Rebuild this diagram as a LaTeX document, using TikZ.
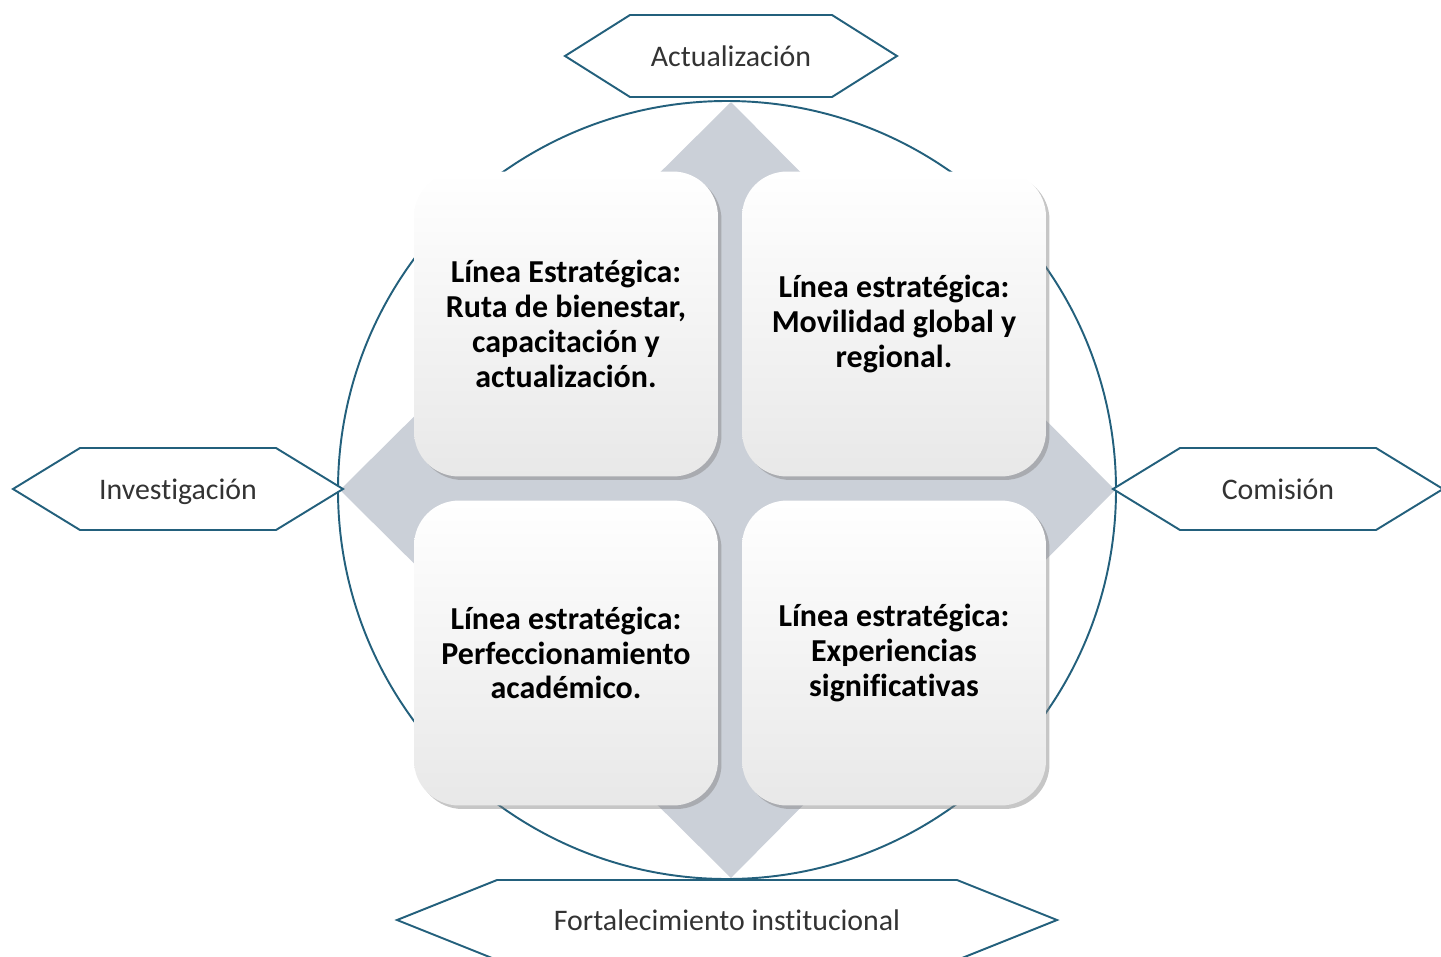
\documentclass[tikz,border=0pt]{standalone}
\usepackage{fontspec}
\setmainfont{Carlito}[Ligatures=NoCommon]
\usepackage{tikz}
\usetikzlibrary{shadows}
\definecolor{lineblue}{HTML}{23607C}
\definecolor{diamondgray}{HTML}{CBD0D8}
\definecolor{hextext}{HTML}{333333}

\begin{document}
\begin{tikzpicture}[x=0.02cm, y=-0.02cm,
HexLine/.style={draw=lineblue, line width=1.1pt, fill=white},
HexText/.style={text=hextext, font=\fontsize{17}{19}\selectfont},
LineBox/.style={rounded corners=0.9cm, minimum width=6.08cm, minimum height=6.1cm,
  top color=white, bottom color=black!9, align=center,
  font=\bfseries\fontsize{18.2}{19.8}\selectfont,
  drop shadow={shadow xshift=2pt, shadow yshift=-2pt, opacity=0.45}}]
\useasboundingbox (0,0) rectangle (1441,957);
\def\midX{727}
\def\midY{490}
\draw [lineblue, line width=1.1pt] (\midX, \midY) circle [radius=389*0.02cm];
\fill [diamondgray] (731, 102) -- (1115, \midY) -- (731, 878) -- (340, \midY) -- cycle;
\foreach \name/\cx/\cy/\txt in {
  ruta/566/324/{Línea Estratégica:\\Ruta de bienestar,\\capacitación y\\actualización.},
  movilidad/894/324/{Línea estratégica:\\Movilidad global y\\regional.},
  perfeccionamiento/566/653/{Línea estratégica:\\Perfeccionamiento\\académico.},
  experiencias/894/653/{Línea estratégica:\\Experiencias\\significativas}%
} {
  \node [LineBox] (\name) at (\cx, \cy) {\txt};
}
\foreach \name/\cx/\cy/\hw/\dp/\hh/\txt in {
  actualizacion/731/56/166/65/41/Actualización,
  investigacion/178/489/165/67/41/Investigación,
  comision/1278/489/165/67/41/Comisión,
  fortalecimiento/727/920/330/100/40/Fortalecimiento institucional%
} {
  \path [HexLine] (\cx-\hw, \cy) -- (\cx-\hw+\dp, \cy-\hh) -- (\cx+\hw-\dp, \cy-\hh)
    -- (\cx+\hw, \cy) -- (\cx+\hw-\dp, \cy+\hh) -- (\cx-\hw+\dp, \cy+\hh) -- cycle;
  \node [HexText] (\name) at (\cx, \cy) {\txt};
}
\end{tikzpicture}
\end{document}
